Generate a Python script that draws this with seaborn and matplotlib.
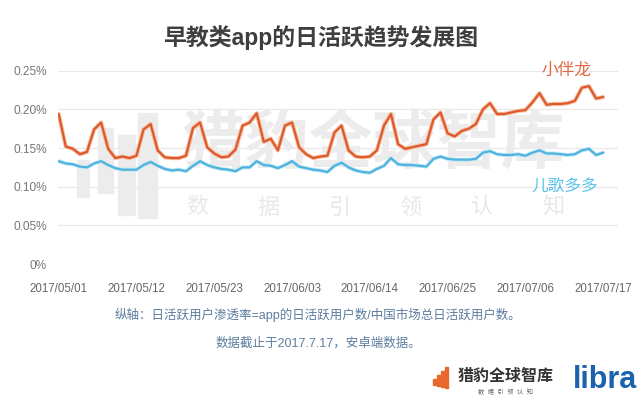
import numpy as np
import pandas as pd
import matplotlib
matplotlib.use("Agg")
import matplotlib.pyplot as plt
import seaborn as sns
from matplotlib import patheffects as pe
from matplotlib.patches import Rectangle

# ---------------- data ----------------
start_date = "2017-05-01"
end_date = "2017-07-17"
dates = pd.date_range(start_date, end_date, freq="D")

series_names = ["小伴龙", "儿歌多多"]

xiaobanlong = [
    0.194, 0.152, 0.149, 0.142, 0.145, 0.174, 0.183,
    0.149, 0.137, 0.139, 0.137, 0.140, 0.174, 0.181,
    0.147, 0.138, 0.137, 0.137, 0.140, 0.176, 0.183,
    0.151, 0.143, 0.138, 0.139, 0.148, 0.179, 0.183,
    0.195, 0.158, 0.162, 0.147, 0.179, 0.183, 0.151,
    0.142, 0.137, 0.139, 0.140, 0.170, 0.179, 0.147,
    0.139, 0.138, 0.139, 0.147, 0.179, 0.194, 0.155,
    0.149, 0.151, 0.153, 0.155, 0.187, 0.196, 0.169,
    0.165, 0.172, 0.175, 0.181, 0.200, 0.208, 0.194,
    0.194, 0.196, 0.198, 0.199, 0.209, 0.221, 0.206,
    0.207, 0.207, 0.208, 0.211, 0.228, 0.230, 0.214,
    0.216,
]

ergeduoduo = [
    0.133, 0.130, 0.129, 0.126, 0.125, 0.130, 0.133,
    0.128, 0.124, 0.122, 0.122, 0.122, 0.128, 0.132,
    0.127, 0.123, 0.121, 0.122, 0.120, 0.127, 0.133,
    0.128, 0.125, 0.123, 0.122, 0.120, 0.125, 0.125,
    0.133, 0.128, 0.127, 0.124, 0.128, 0.133, 0.126,
    0.124, 0.122, 0.121, 0.119, 0.127, 0.131, 0.125,
    0.121, 0.119, 0.118, 0.123, 0.127, 0.137, 0.129,
    0.128, 0.128, 0.127, 0.126, 0.136, 0.139, 0.136,
    0.135, 0.135, 0.135, 0.136, 0.144, 0.146, 0.142,
    0.141, 0.141, 0.142, 0.140, 0.144, 0.147, 0.143,
    0.143, 0.142, 0.141, 0.142, 0.147, 0.149, 0.141,
    0.144,
]

x_tick_labels = ["2017/05/01", "2017/05/12", "2017/05/23", "2017/06/03",
                 "2017/06/14", "2017/06/25", "2017/07/06", "2017/07/17"]
y_ticks = [0.0, 0.05, 0.10, 0.15, 0.20, 0.25]
y_tick_labels = ["0%", "0.05%", "0.10%", "0.15%", "0.20%", "0.25%"]

title = "早教类app的日活跃趋势发展图"
note_1 = "纵轴：日活跃用户渗透率=app的日活跃用户数/中国市场总日活跃用户数。"
note_2 = "数据截止于2017.7.17，安卓端数据。"
watermark = "猎豹全球智库"
watermark_sub = ["数", "据", "引", "领", "认", "知"]

# ---------------- frame ----------------
days = (dates - dates[0]).days
df = pd.DataFrame({
    "day": np.concatenate([days, days]),
    "value": xiaobanlong + ergeduoduo,
    "app": [series_names[0]] * len(days) + [series_names[1]] * len(days),
})

sns.set_theme(style="white")
plt.rcParams["font.family"] = ["Liberation Sans", "Noto Sans CJK SC", "DejaVu Sans"]

orange = "#DD5A2F"
orange_halo = "#F8C0A2"
blue = "#50B3DD"
blue_halo = "#C2E7F6"

fig = plt.figure(figsize=(6.4, 3.99), dpi=100)
fig.patch.set_facecolor("white")
ax = fig.add_axes([0.0906, 0.3383, 0.875, 0.4845])
ax.set_facecolor("none")
ax.set_axisbelow(True)

FT = fig.transFigure

# watermark (behind the lines, inside the axes draw order)
wm_color = "#ECECEC"
bars = [(77, 160, 12, 37), (98, 128, 15, 65), (118, 135, 17, 80), (138, 113, 19, 105)]
for bx, by, bw, bh in bars:
    ax.add_patch(Rectangle((bx / 640, 1 - (by + bh) / 399), bw / 640, bh / 399,
                           transform=FT, color=wm_color, zorder=1, clip_on=False))
ax.text(373 / 640, 1 - 145 / 399, watermark, transform=FT, ha="center", va="center",
        fontsize=46, fontweight="bold", color=wm_color,
        family=["Noto Sans CJK SC"], zorder=1)
for i, ch in enumerate(watermark_sub):
    ax.text((197 + i * 71.2) / 640, 1 - 207 / 399, ch, transform=FT, ha="center",
            va="center", fontsize=16, color="#E8E8E8", family=["Noto Sans CJK SC"], zorder=1)

sns.lineplot(data=df, x="day", y="value", hue="app",
             palette={series_names[0]: orange, series_names[1]: blue},
             linewidth=1.6, legend=False, ax=ax, zorder=3)
ax.lines[0].set_path_effects([pe.Stroke(linewidth=3.0, foreground=orange_halo), pe.Normal()])
ax.lines[1].set_path_effects([pe.Stroke(linewidth=2.8, foreground=blue_halo), pe.Normal()])
for ln in ax.lines:
    ln.set_zorder(3)

ax.set_xlim(-0.1, 79.1)
ax.set_ylim(0, 0.25)
ax.set_yticks(y_ticks)
ax.set_yticklabels(y_tick_labels)
tick_pos = [days[list(dates.strftime("%Y/%m/%d")).index(t)] for t in x_tick_labels]
ax.set_xticks(tick_pos)
ax.set_xticklabels(x_tick_labels)
ax.set_xlabel("")
ax.set_ylabel("")
ax.grid(axis="y", color="#E9E9E9", linewidth=0.9)
ax.grid(axis="x", visible=False)
for s in ax.spines.values():
    s.set_visible(False)
ax.tick_params(axis="x", length=0, pad=14, labelsize=8.3, colors="#666666")
ax.tick_params(axis="y", length=0, pad=8, labelsize=8.6, colors="#777777")

# series labels
ax.text(566 / 640, 1 - 70 / 399, series_names[0], transform=FT,
        ha="center", va="center", fontsize=12, color="#E0683F", zorder=4)
ax.text(565 / 640, 1 - 187 / 399, series_names[1], transform=FT,
        ha="center", va="center", fontsize=12, color="#5CC3EA", zorder=4)

# title and notes
fig.text(321 / 640, 1 - 38 / 399, title, ha="center", va="center",
         fontsize=16.5, fontweight="bold", color="#3E3E3E")
fig.text(318 / 640, 1 - 315 / 399, note_1, ha="center", va="center",
         fontsize=9, color="#5B7C9E")
fig.text(318 / 640, 1 - 343 / 399, note_2, ha="center", va="center",
         fontsize=9, color="#5B7C9E")

# bottom-right branding
logo_bars = [(433, 379, 3, 6), (437, 375, 3, 11), (441, 371, 3, 16), (445, 367, 3, 21)]
for bx, by, bw, bh in logo_bars:
    fig.patches.append(Rectangle((bx / 640, 1 - (by + bh) / 399), bw / 640, bh / 399,
                                 transform=FT, color="#E8672F", zorder=2))
fig.text(506 / 640, 1 - 376 / 399, watermark, ha="center", va="center",
         fontsize=11.5, fontweight="bold", color="#333333")
fig.text(506 / 640, 1 - 392 / 399, "  ".join(watermark_sub), ha="center", va="center",
         fontsize=4.5, color="#666666")
fig.text(605 / 640, 1 - 380 / 399, "libra", ha="center", va="center",
         fontsize=22, fontweight="bold", color="#1D62AE", family=["Liberation Sans"])

fig.savefig("out.png", dpi=100, facecolor="white")
